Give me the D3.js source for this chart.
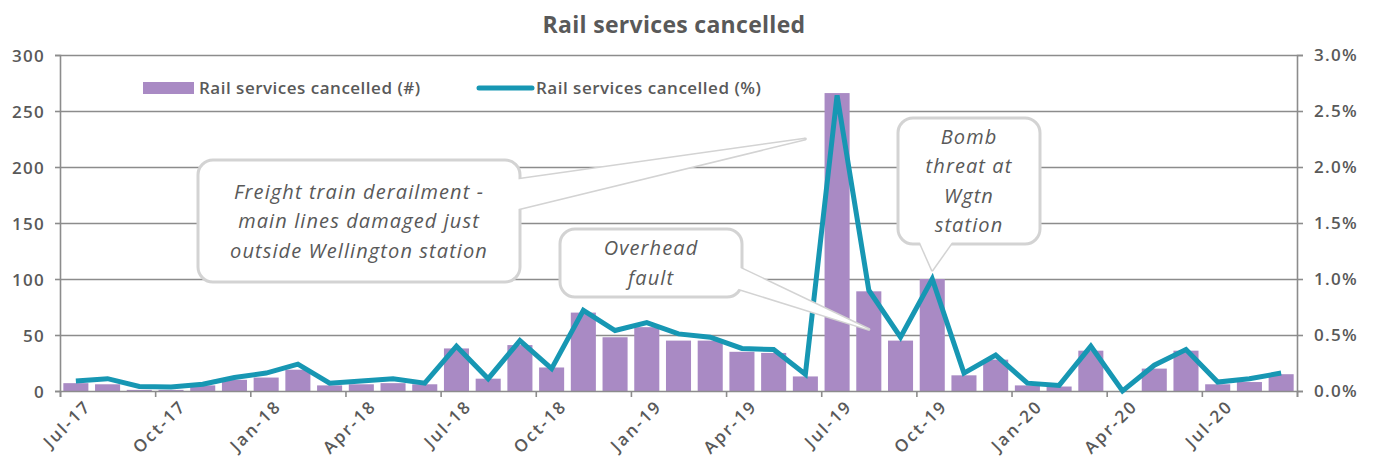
<!DOCTYPE html>
<html>
<head>
<meta charset="utf-8">
<script src="https://cdn.jsdelivr.net/npm/d3@7"></script>
<style>
  body { margin: 0; background: #fff; }
  svg { font-family: "Open Sans", sans-serif; }
</style>
</head>
<body>
<svg id="drawing_region"></svg>
<script>
// months Jul-17 .. Sep-20
const months = ["Jul-17","Aug-17","Sep-17","Oct-17","Nov-17","Dec-17","Jan-18","Feb-18","Mar-18","Apr-18","May-18","Jun-18",
                "Jul-18","Aug-18","Sep-18","Oct-18","Nov-18","Dec-18","Jan-19","Feb-19","Mar-19","Apr-19","May-19","Jun-19",
                "Jul-19","Aug-19","Sep-19","Oct-19","Nov-19","Dec-19","Jan-20","Feb-20","Mar-20","Apr-20","May-20","Jun-20",
                "Jul-20","Aug-20","Sep-20"];
const cancelledCount = [7, 6, 1, 1, 5, 10, 12, 19, 5, 6, 7, 6,
                        38, 11, 41, 21, 70, 48, 57, 45, 45, 35, 34, 13,
                        266, 89, 45, 100, 14, 28, 5, 4, 36, 0, 20, 36,
                        6, 8, 15];
const cancelledPct = [0.09, 0.11, 0.04, 0.035, 0.06, 0.12, 0.16, 0.24, 0.07, 0.09, 0.11, 0.07,
                      0.40, 0.11, 0.45, 0.20, 0.72, 0.54, 0.61, 0.51, 0.48, 0.38, 0.37, 0.15,
                      2.64, 0.90, 0.48, 1.00, 0.16, 0.32, 0.07, 0.05, 0.40, 0.0, 0.23, 0.37,
                      0.08, 0.11, 0.16];
const leftTicks = [0, 50, 100, 150, 200, 250, 300];
const rightTicks = [0, 0.5, 1.0, 1.5, 2.0, 2.5, 3.0];
const labelEvery = 3;

// annotation callouts: tip given in data units (month, count)
const callouts = [
    { lines: ["Freight train derailment -", "main lines damaged just", "outside Wellington station"],
      month: "Jun-19", value: 225, box: [198, 160, 322, 122], side: "right", base: [180, 210] },
    { lines: ["Overhead", "fault"],
      month: "Aug-19", value: 55, box: [560, 229, 182, 68], side: "right", base: [266, 288] },
    { lines: ["Bomb", "threat at", "Wgtn", "station"],
      month: "Oct-19", value: 108, box: [898, 118, 142, 126], side: "bottom", base: [918, 955] }
];

const data = months.map((m, i) => ({ month: m, count: cancelledCount[i], pct: cancelledPct[i] }));

const config = {
    width: 1376, height: 461,
    margin: { top: 55, right: 79, bottom: 70, left: 60 }
};
const textColor = "#595959";
const gridColor = "#8c8c8c";
const labelStyle = (sel, size, spacing) => sel
    .attr("fill", textColor)
    .style("font-size", size + "px")
    .style("letter-spacing", spacing + "px")
    .style("font-weight", "600")
    .style("font-family", "'Open Sans', sans-serif");

const svg = d3.select("#drawing_region")
    .attr("width", config.width)
    .attr("height", config.height);

const innerW = config.width - config.margin.left - config.margin.right;
const innerH = config.height - config.margin.top - config.margin.bottom;

const chart = svg.append("g")
    .attr("transform", `translate(${config.margin.left}, ${config.margin.top})`);

const xscale = d3.scaleBand().domain(months).range([0, innerW]).paddingInner(0.21).paddingOuter(0.105);
const xindex = d3.scaleLinear().domain([0, months.length]).range([0, innerW]);
const yleft = d3.scaleLinear().domain([0, 300]).range([innerH, 0]);
const yright = d3.scaleLinear().domain([0, 3]).range([innerH, 0]);

// gridlines
chart.append("g")
    .call(d3.axisLeft(yleft).tickValues(leftTicks.slice(1)).tickSize(-innerW).tickFormat(""))
    .call(g => g.select(".domain").remove())
    .selectAll("line").attr("stroke", gridColor).attr("stroke-width", 1.6);

// bars
chart.selectAll("rect.bar")
    .data(data)
    .enter()
    .append("rect")
    .attr("class", "bar")
    .attr("x", d => xscale(d.month))
    .attr("width", xscale.bandwidth())
    .attr("y", d => yleft(d.count))
    .attr("height", d => innerH - yleft(d.count))
    .attr("fill", "#a98ac4");

// left axis
const yaxisL = chart.append("g")
    .call(d3.axisLeft(yleft).tickValues(leftTicks).tickSize(5).tickPadding(10));
// right axis
const yaxisR = chart.append("g")
    .attr("transform", `translate(${innerW}, 0)`)
    .call(d3.axisRight(yright).tickValues(rightTicks).tickSize(6).tickPadding(11)
        .tickFormat(d => d.toFixed(1) + "%"));
// x axis ticks (between categories)
const xaxis = chart.append("g")
    .attr("transform", `translate(0, ${innerH})`)
    .call(d3.axisBottom(xindex)
        .tickValues(d3.range(0, months.length + 1, labelEvery))
        .tickSize(6).tickFormat(""));

[yaxisL, yaxisR, xaxis].forEach(g => {
    g.select(".domain").attr("stroke", gridColor).attr("stroke-width", 1.6);
    g.selectAll(".tick line").attr("stroke", gridColor).attr("stroke-width", 1.6);
    g.selectAll(".tick text").call(labelStyle, 17, 1.3);
});
yaxisL.selectAll(".tick text").attr("dy", "0.36em");

// x labels, rotated
chart.append("g")
    .selectAll("text")
    .data(months.filter((m, i) => i % labelEvery === 0))
    .enter()
    .append("text")
    .attr("transform", d => `translate(${xscale(d) + xscale.bandwidth() / 2 + 9}, ${innerH + 9}) rotate(-45)`)
    .attr("text-anchor", "end")
    .attr("dy", "0.6em")
    .call(labelStyle, 17, 2.2)
    .text(d => d);

// line
const line = d3.line()
    .x(d => xscale(d.month) + xscale.bandwidth() / 2)
    .y(d => yright(d.pct));
chart.append("path")
    .datum(data)
    .attr("d", line)
    .attr("fill", "none")
    .attr("stroke", "#1797b3")
    .attr("stroke-width", 5)
    .attr("stroke-linejoin", "miter");

// callouts (box positions in page pixels)
const calloutLayer = svg.append("g");
const borderColor = "#d3d3d3";
callouts.forEach(c => {
    const [bx, by, bw, bh] = c.box;
    const tipX = config.margin.left + xscale(c.month) + xscale.bandwidth() / 2;
    const tipY = config.margin.top + yleft(c.value);
    let wedge;
    if (c.side === "right") {
        wedge = [[bx + bw - 6, c.base[0]], [tipX, tipY], [bx + bw - 6, c.base[1]]];
    } else {
        wedge = [[c.base[0], by + bh - 6], [tipX, tipY], [c.base[1], by + bh - 6]];
    }
    const g = calloutLayer.append("g");
    g.append("polygon").attr("points", wedge.map(p => p.join(",")).join(" "))
        .attr("fill", "#fff").attr("stroke", borderColor).attr("stroke-width", 3).attr("stroke-linejoin", "round");
    g.append("rect")
        .attr("x", bx).attr("y", by).attr("width", bw).attr("height", bh)
        .attr("rx", 15).attr("ry", 15)
        .attr("fill", "#fff").attr("stroke", borderColor).attr("stroke-width", 3);
    g.append("polygon").attr("points", wedge.map(p => p.join(",")).join(" "))
        .attr("fill", "#fff");
    const lh = 29.5;
    const y0 = by + bh / 2 - (c.lines.length - 1) * lh / 2;
    g.selectAll("text")
        .data(c.lines)
        .enter()
        .append("text")
        .attr("x", bx + bw / 2)
        .attr("y", (d, i) => y0 + i * lh)
        .attr("dy", "0.35em")
        .attr("text-anchor", "middle")
        .attr("fill", textColor)
        .style("font-size", "20px")
        .style("letter-spacing", "1.1px")
        .style("font-style", "italic")
        .text(d => d);
});

// title
svg.append("text")
    .attr("x", 674).attr("y", 33)
    .attr("text-anchor", "middle")
    .attr("fill", textColor)
    .style("font-size", "23px")
    .style("letter-spacing", "0.3px")
    .style("font-weight", "bold")
    .text("Rail services cancelled");

// legend
const legend = svg.append("g");
legend.append("rect").attr("x", 143).attr("y", 82).attr("width", 51).attr("height", 12).attr("fill", "#a98ac4");
legend.append("text").attr("x", 199).attr("y", 88).attr("dy", "0.35em")
    .call(labelStyle, 17, 0.5)
    .text("Rail services cancelled (#)");
legend.append("line").attr("x1", 479).attr("x2", 532).attr("y1", 88).attr("y2", 88)
    .attr("stroke", "#1797b3").attr("stroke-width", 5).attr("stroke-linecap", "round");
legend.append("text").attr("x", 536).attr("y", 88).attr("dy", "0.35em")
    .call(labelStyle, 17, 0.5)
    .text("Rail services cancelled (%)");
</script>
</body>
</html>
